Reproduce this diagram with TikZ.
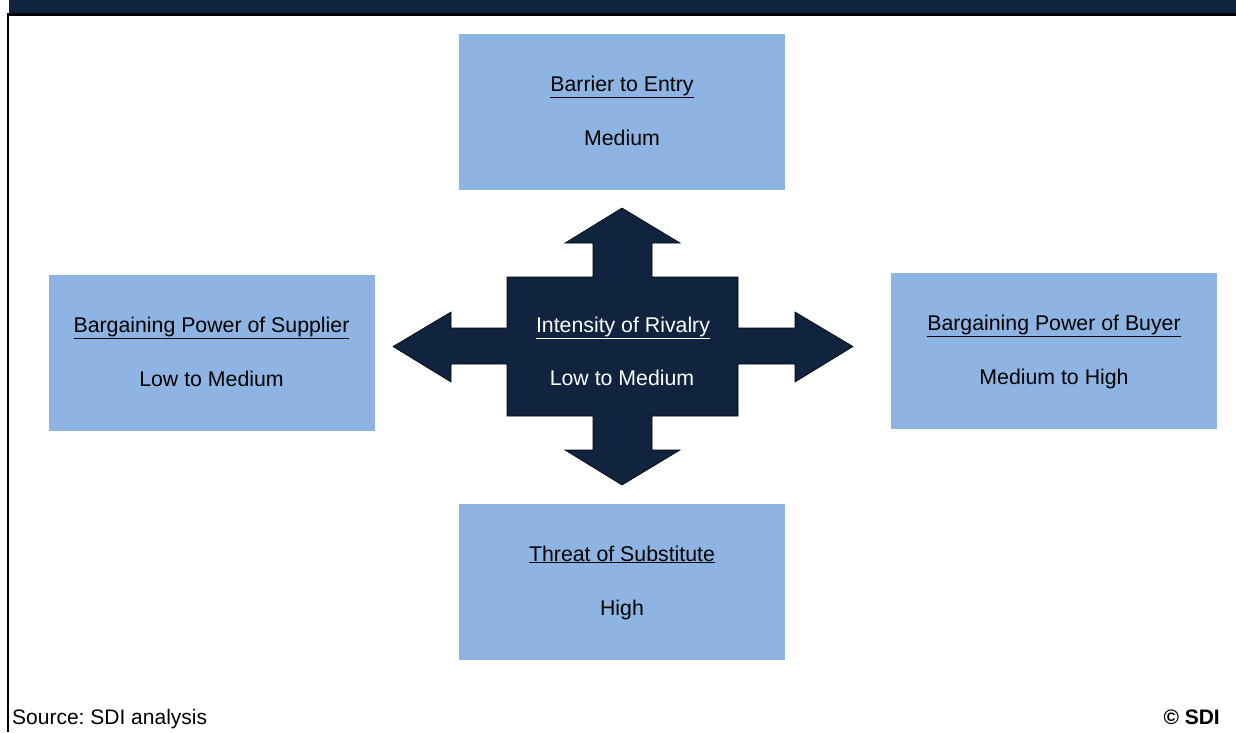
\documentclass[tikz,border=0pt]{standalone}
\usepackage{fontspec}
\setmainfont{Liberation Sans}
\frenchspacing
\definecolor{navy}{HTML}{10243F}
\definecolor{boxblue}{HTML}{8EB4E3}
\begin{document}
\begin{tikzpicture}[x=1pt,y=-1pt,
  fbox/.style={fill=boxblue,draw=none,minimum width=326pt,minimum height=156pt,inner sep=0pt},
  btxt/.style={anchor=base,inner sep=0pt,font=\fontsize{21.3}{25}\selectfont,text=black},
  wtxt/.style={btxt,text=white},
  ftxt/.style={inner sep=0pt,font=\fontsize{21}{25}\selectfont,text=black}]
\useasboundingbox (0,0) rectangle (1236,732);
% header bar and frame
\fill[navy] (9,0) rectangle (1236,13);
\fill[black] (7,13) rectangle (1236,15.5);
\fill[black] (7,13) rectangle (9,732);
% boxes
\node[fbox] (top) at (622,112) {};
\node[fbox] (left) at (211.5,353) {};
\node[fbox] (right) at (1054,351) {};
\node[fbox] (bottom) at (622,582) {};
% central cross arrow
\filldraw[fill=navy,draw=black,line width=0.6pt,line join=miter]
 (622,208) -- (680,243) -- (652,243) -- (652,277) -- (738,277) -- (738,328)
 -- (795,328) -- (795,312) -- (853,346.5) -- (795,382) -- (795,364) -- (738,364)
 -- (738,416) -- (652,416) -- (652,450) -- (680,450) -- (622,485) -- (565,450)
 -- (593,450) -- (593,416) -- (507,416) -- (507,364) -- (451,364) -- (451,382)
 -- (393,346.5) -- (451,312) -- (451,328) -- (507,328) -- (507,277) -- (593,277)
 -- (593,243) -- (565,243) -- cycle;
% texts
\node[btxt] (topt) at (622,91) {\underline{Barrier to Entry}};
\node[btxt] (topv) at (622,145) {Medium};
\node[btxt] (leftt) at (211.5,332) {\underline{Bargaining Power of Supplier}};
\node[btxt] (leftv) at (211.5,386) {Low to Medium};
\node[btxt] (rightt) at (1054,330) {\underline{Bargaining Power of Buyer}};
\node[btxt] (rightv) at (1054,384) {Medium to High};
\node[btxt] (bott) at (622,561) {\underline{Threat of Substitute}};
\node[btxt] (botv) at (622,615) {High};
\node[wtxt] (midt) at (623,332.5) {\underline{Intensity of Rivalry}};
\node[wtxt] (midv) at (622,385) {Low to Medium};
% footer
\node[ftxt,anchor=base west] (src) at (12,724) {Source: SDI analysis};
\node[ftxt,anchor=base east,font=\fontsize{21}{25}\selectfont\bfseries] (copy) at (1220,724) {\textcopyright\ SDI};
\end{tikzpicture}
\end{document}
